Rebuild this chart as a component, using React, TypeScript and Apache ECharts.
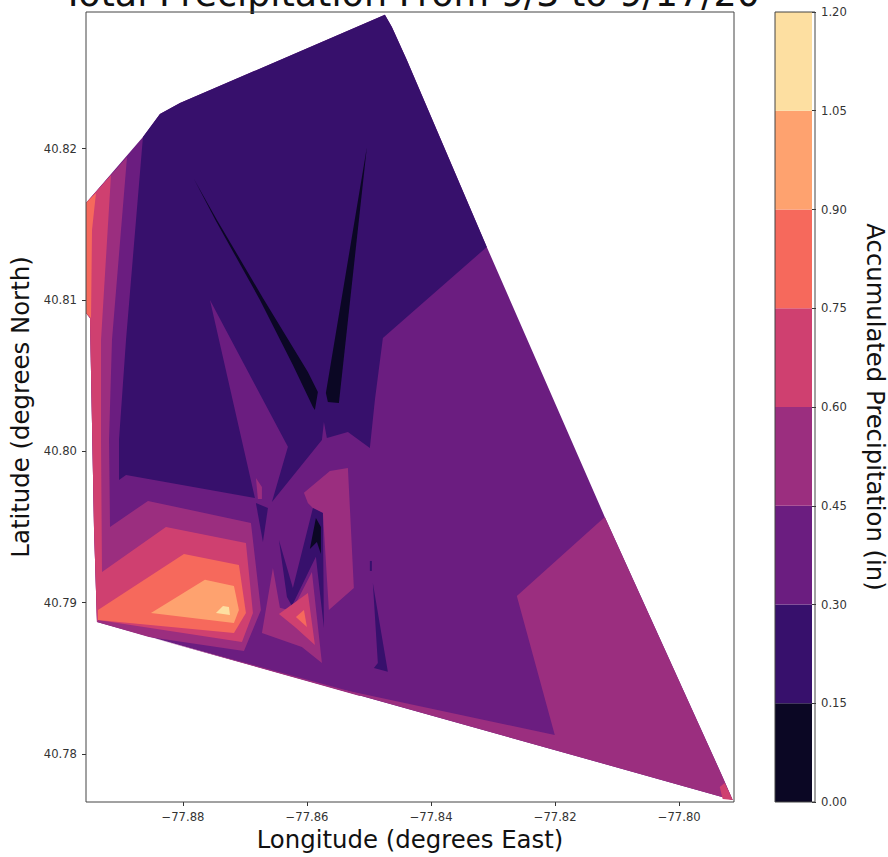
import React, { useEffect, useRef } from "react";
import * as echarts from "echarts";

type P = [number, number];

const lonTicks = [-77.88, -77.86, -77.84, -77.82, -77.8];
const latTicks = [40.78, 40.79, 40.8, 40.81, 40.82];
const levelTicks = [0, 0.15, 0.3, 0.45, 0.6, 0.75, 0.9, 1.05, 1.2];
const levelBands = [0.15, 0.15, 0.15, 0.15, 0.15, 0.15, 0.15, 0.15];
const levelColors = ["#0b0724", "#37106c", "#6b1d80", "#9b2e7f", "#cf4070", "#f6695c", "#fea26f", "#fddfa1"];

// Contour regions as [longitude, latitude], painted from back to front.
const hull: P[] = [[-77.84745, 40.82884], [-77.84632, 40.82804], [-77.84391, 40.82586], [-77.83102, 40.8135], [-77.812, 40.79566], [-77.79315, 40.77861], [-77.79138, 40.77696], [-77.89386, 40.78872], [-77.89434, 40.79493], [-77.89499, 40.80881], [-77.89563, 40.80914], [-77.89563, 40.81641], [-77.88645, 40.82077], [-77.88371, 40.82229], [-77.88048, 40.82302]];
const southEast: P[] = [[-77.812, 40.79566], [-77.82618, 40.79044], [-77.82006, 40.78125], [-77.85631, 40.78442], [-77.79138, 40.77696], [-77.79315, 40.77861]];
const upperDark: P[] = [[-77.88645, 40.82077], [-77.88371, 40.82229], [-77.88048, 40.82302], [-77.84745, 40.82884], [-77.84632, 40.82804], [-77.84391, 40.82586], [-77.83102, 40.8135], [-77.84777, 40.80749], [-77.84906, 40.80339], [-77.84987, 40.80022], [-77.85341, 40.80128], [-77.8568, 40.80088], [-77.85728, 40.80194], [-77.8576, 40.80075], [-77.86566, 40.79665], [-77.86308, 40.80029], [-77.87565, 40.81], [-77.8684, 40.79691], [-77.88918, 40.79843], [-77.89031, 40.7981], [-77.89031, 40.80075], [-77.88918, 40.80736]];
const smallWedge: P[] = [[-77.86824, 40.79658], [-77.8663, 40.79625], [-77.86711, 40.79401]];
const pinkFleck: P[] = [[-77.86824, 40.79824], [-77.86727, 40.79764], [-77.86727, 40.79685], [-77.86792, 40.79685]];
const blackSpikeA: P[] = [[-77.87823, 40.818], [-77.87452, 40.81529], [-77.86711, 40.81013], [-77.85986, 40.80524], [-77.85825, 40.80392], [-77.85873, 40.80273], [-77.85905, 40.80293], [-77.86228, 40.8057], [-77.86759, 40.81], [-77.87468, 40.81522]];
const blackSpikeB: P[] = [[-77.85035, 40.82011], [-77.85486, 40.80319], [-77.85664, 40.80326], [-77.85696, 40.80385]];
const westBand45: P[] = [[-77.88902, 40.81945], [-77.89144, 40.80736], [-77.89192, 40.80075], [-77.89176, 40.795], [-77.88564, 40.79672], [-77.86904, 40.79526], [-77.86743, 40.78951], [-77.87017, 40.7868], [-77.88548, 40.78773], [-77.89386, 40.78872], [-77.89434, 40.79493], [-77.89499, 40.80881], [-77.89563, 40.80914], [-77.89563, 40.81641]];
const westBand60: P[] = [[-77.8916, 40.81826], [-77.89321, 40.80736], [-77.89321, 40.80075], [-77.89305, 40.79202], [-77.88274, 40.795], [-77.86985, 40.79394], [-77.86872, 40.78931], [-77.87049, 40.7874], [-77.8937, 40.78885], [-77.89386, 40.78872], [-77.89434, 40.79493], [-77.89499, 40.80881], [-77.89563, 40.80914], [-77.89563, 40.81641]];
const westStrip75: P[] = [[-77.89563, 40.81641], [-77.89402, 40.81707], [-77.89466, 40.81463], [-77.89482, 40.80881], [-77.89563, 40.80914]];
const core75: P[] = [[-77.8937, 40.78951], [-77.87984, 40.79321], [-77.87098, 40.79249], [-77.86985, 40.78931], [-77.87178, 40.78799], [-77.8937, 40.78885]];
const core90: P[] = [[-77.88516, 40.78931], [-77.87646, 40.7915], [-77.87178, 40.7911], [-77.87098, 40.78951], [-77.87178, 40.78865]];
const core105: P[] = [[-77.87468, 40.78931], [-77.87355, 40.78978], [-77.87259, 40.78971], [-77.87243, 40.78918]];
const centre45: P[] = [[-77.8605, 40.79725], [-77.85631, 40.7987], [-77.85341, 40.7989], [-77.85245, 40.79097], [-77.85648, 40.78951], [-77.85744, 40.79592], [-77.85905, 40.79625], [-77.85986, 40.79658]];
const darkM: P[] = [[-77.86453, 40.79414], [-77.86228, 40.79097], [-77.85905, 40.79625], [-77.85744, 40.79592], [-77.85728, 40.78832], [-77.85857, 40.79302], [-77.86244, 40.78978], [-77.86324, 40.79037]];
const blackM: P[] = [[-77.85857, 40.79559], [-77.85776, 40.795], [-77.85776, 40.79321], [-77.85841, 40.79401], [-77.85954, 40.79354]];
const south45: P[] = [[-77.8655, 40.79229], [-77.86437, 40.78965], [-77.86244, 40.78945], [-77.85921, 40.79202], [-77.8576, 40.78601], [-77.86083, 40.78707], [-77.86727, 40.78799]];
const south60: P[] = [[-77.86453, 40.78925], [-77.85986, 40.79064], [-77.85873, 40.7872], [-77.86195, 40.78839]];
const south75: P[] = [[-77.86179, 40.78905], [-77.8605, 40.78951], [-77.86002, 40.78839]];
const eastSpike: P[] = [[-77.84939, 40.7913], [-77.84697, 40.78542], [-77.84922, 40.78568], [-77.84858, 40.78601]];
const eastSpeck: P[] = [[-77.84987, 40.79275], [-77.84955, 40.79275], [-77.84955, 40.79209], [-77.84987, 40.79209]];
const cornerTip: P[] = [[-77.79347, 40.77781], [-77.79267, 40.77808], [-77.79138, 40.77696], [-77.79299, 40.77702]];
const southSliver: P[] = [[-77.88548, 40.78773], [-77.85148, 40.78396], [-77.85148, 40.78383]];

const regions: [P[], number][] = [
  [hull, 2], [southEast, 3], [southSliver, 3], [upperDark, 1], [smallWedge, 1], [pinkFleck, 3],
  [blackSpikeA, 0], [blackSpikeB, 0], [westBand45, 3], [westBand60, 4], [westStrip75, 5],
  [core75, 5], [core90, 6], [core105, 7], [centre45, 3], [darkM, 1], [blackM, 0],
  [south45, 3], [south60, 4], [south75, 5], [eastSpike, 1], [eastSpeck, 1], [cornerTip, 4],
];

const FONT = "'DejaVu Sans', sans-serif";
const INK = "#333333";
const main = { left: 86, top: 12, width: 648, height: 790 };
const bar = { left: 775, top: 12, width: 40, height: 790 };

export default function App() {
  const ref = useRef<HTMLDivElement>(null);
  useEffect(() => {
    const chart = echarts.init(ref.current!, undefined, { renderer: "svg" });
    const axisBase = {
      axisLine: { show: false },
      splitLine: { show: false },
      axisTick: { show: true, length: 4, lineStyle: { color: "#333", width: 1 } },
    };
    const frame = (g: typeof main) => ({
      type: "rect",
      silent: true,
      z: 100,
      shape: { x: g.left, y: g.top, width: g.width, height: g.height },
      style: { fill: "none", stroke: "#444", lineWidth: 1 },
    });
    const tickLabel = { fontFamily: FONT, fontSize: 11.6, color: INK, margin: 9 };
    chart.setOption({
      animation: false,
      backgroundColor: "#fff",
      title: {
        text: "Total Precipitation From 9/3 to 9/17/20",
        left: 406,
        top: -30,
        textAlign: "center",
        textStyle: { fontFamily: FONT, fontSize: 36.5, fontWeight: "normal", color: "#111" },
      },
      grid: [
        { ...main, containLabel: false },
        { ...bar, containLabel: false },
      ],
      xAxis: [
        {
          ...axisBase,
          type: "value",
          gridIndex: 0,
          min: -77.89563,
          max: -77.79117,
          scale: true,
          name: "Longitude (degrees East)",
          nameLocation: "middle",
          nameGap: 24,
          nameTextStyle: { fontFamily: FONT, fontSize: 24.4, color: "#111" },
          axisTick: { ...axisBase.axisTick, customValues: lonTicks },
          axisLabel: {
            ...tickLabel,
            customValues: lonTicks,
            formatter: (v: number) => v.toFixed(2).replace("-", "\u2212"),
          },
        },
        {
          type: "category",
          gridIndex: 1,
          data: ["levels"],
          axisLine: { show: false },
          axisTick: { show: false },
          axisLabel: { show: false },
        },
      ],
      yAxis: [
        {
          ...axisBase,
          type: "value",
          gridIndex: 0,
          min: 40.77682,
          max: 40.82903,
          scale: true,
          name: "Latitude (degrees North)",
          nameLocation: "middle",
          nameGap: 48,
          nameTextStyle: { fontFamily: FONT, fontSize: 24.4, color: "#111" },
          axisTick: { ...axisBase.axisTick, customValues: latTicks },
          axisLabel: {
            ...tickLabel,
            customValues: latTicks,
            formatter: (v: number) => v.toFixed(2),
          },
        },
        {
          ...axisBase,
          type: "value",
          gridIndex: 1,
          position: "right",
          min: 0,
          max: 1.2,
          name: "Accumulated Precipitation (in)",
          nameLocation: "middle",
          nameRotate: -90,
          nameGap: 51,
          nameTextStyle: { fontFamily: FONT, fontSize: 24.3, color: "#111" },
          axisTick: { ...axisBase.axisTick, customValues: levelTicks },
          axisLabel: {
            ...tickLabel,
            margin: 9,
            customValues: levelTicks,
            formatter: (v: number) => v.toFixed(2),
          },
        },
      ],
      series: [
        {
          type: "custom",
          xAxisIndex: 0,
          yAxisIndex: 0,
          clip: true,
          data: regions.map((_, i) => [i]),
          encode: { x: -1, y: -1 },
          renderItem: (_: unknown, api: any) => {
            const [poly, level] = regions[api.value(0)];
            return {
              type: "polygon",
              shape: { points: poly.map((p) => api.coord(p)) },
              style: { fill: levelColors[level], stroke: "none" },
            };
          },
        },
        ...levelBands.map((v, i) => ({
          type: "bar",
          xAxisIndex: 1,
          yAxisIndex: 1,
          stack: "levels",
          barWidth: "100%",
          data: [v],
          itemStyle: { color: levelColors[i] },
        })),
      ],
      graphic: [frame(main), frame(bar)],
    });
    return () => chart.dispose();
  }, []);
  return (
    <div
      ref={ref}
      style={{ position: "absolute", left: 0, top: 0, width: 888, height: 857 }}
    />
  );
}
